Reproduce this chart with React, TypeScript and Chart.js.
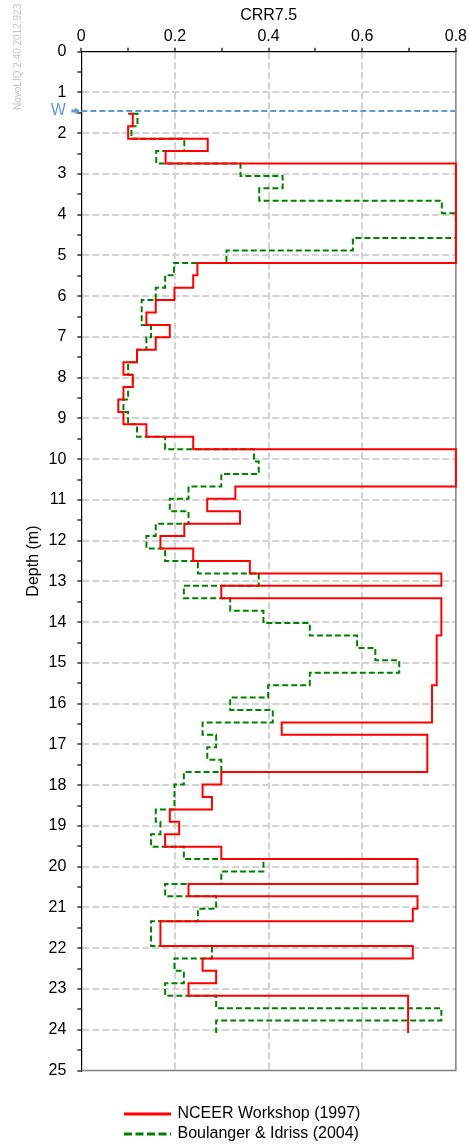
import { useEffect, useRef } from "react";
import { Chart, registerables } from "chart.js";

Chart.register(...registerables);

// Layer boundaries (m) – 1 ft layers from 5 ft to 79 ft
const depthBoundsM = [
  1.524, 1.829, 2.134, 2.438, 2.743, 3.048, 3.353, 3.658, 3.962, 4.267,
  4.572, 4.877, 5.182, 5.486, 5.791, 6.096, 6.401, 6.706, 7.01, 7.315,
  7.62, 7.925, 8.23, 8.534, 8.839, 9.144, 9.449, 9.754, 10.058, 10.363,
  10.668, 10.973, 11.278, 11.582, 11.887, 12.192, 12.497, 12.802, 13.106, 13.411,
  13.716, 14.021, 14.326, 14.63, 14.935, 15.24, 15.545, 15.85, 16.154, 16.459,
  16.764, 17.069, 17.374, 17.678, 17.983, 18.288, 18.593, 18.898, 19.202, 19.507,
  19.812, 20.117, 20.422, 20.726, 21.031, 21.336, 21.641, 21.946, 22.25, 22.555,
  22.86, 23.165, 23.47, 23.774, 24.079,
];

// CRR7.5 per layer – NCEER Workshop (1997)
const nceerCRR = [
  0.11, 0.1, 0.27, 0.18, 0.8, 0.8, 0.8, 0.8, 0.8, 0.8, 0.8, 0.8,
  0.248, 0.239, 0.199, 0.159, 0.139, 0.189, 0.159, 0.119, 0.09, 0.11, 0.09, 0.079, 0.09, 0.139, 0.239,
  0.8, 0.8, 0.8, 0.329, 0.269, 0.339, 0.22, 0.169, 0.239, 0.36, 0.769, 0.299,
  0.769, 0.769, 0.769, 0.759, 0.759, 0.759, 0.759, 0.749, 0.749, 0.749, 0.428,
  0.739, 0.739, 0.739, 0.299, 0.259, 0.279, 0.189, 0.209, 0.179, 0.299, 0.718, 0.718, 0.229, 0.718,
  0.708, 0.169, 0.169, 0.708, 0.259, 0.288, 0.229, 0.698, 0.698, 0.698,
];

// CRR7.5 per layer – Boulanger & Idriss (2004)
const boulangerCRR = [
  0.12, 0.107, 0.22, 0.16, 0.34, 0.43, 0.38, 0.77, 0.8, 0.8, 0.58, 0.31,
  0.198, 0.179, 0.159, 0.129, 0.129, 0.149, 0.139, 0.119, 0.1, 0.11, 0.1, 0.09, 0.1, 0.119, 0.179,
  0.369, 0.379, 0.299, 0.229, 0.189, 0.229, 0.159, 0.139, 0.179, 0.249, 0.379, 0.219,
  0.318, 0.389, 0.488, 0.589, 0.628, 0.679, 0.488, 0.399, 0.318, 0.409, 0.259,
  0.288, 0.269, 0.299, 0.219, 0.199, 0.199, 0.159, 0.169, 0.149, 0.219, 0.389, 0.299, 0.179, 0.288,
  0.249, 0.149, 0.149, 0.279, 0.199, 0.219, 0.179, 0.288, 0.769, 0.288,
];

const nceerStartCRR = 0.1;
const boulangerStartCRR = 0.11;
const waterDepthM = 1.455;

const seriesLabels = ["NCEER Workshop (1997)", "Boulanger & Idriss (2004)"];
const xTitle = "CRR7.5";
const yTitle = "Depth (m)";
const waterLabel = "W";
const watermark = "NovoLIQ 2.40.2012.923";

const FONT = 'Arial, "Liberation Sans", sans-serif';
const RED = "#ff0000";
const GREEN = "#008000";
const BLUE = "#5b9bd5";
const GRID = "#d3d3d3";

function stepPoints(start: number, vals: number[]) {
  const pts: { x: number; y: number }[] = [{ x: start, y: depthBoundsM[0] }];
  vals.forEach((v, i) => {
    pts.push({ x: v, y: depthBoundsM[i] }, { x: v, y: depthBoundsM[i + 1] });
  });
  return pts;
}

const decorPlugin = {
  id: "decor",
  beforeDatasetsDraw(chart: any) {
    const { ctx, chartArea: a } = chart;
    ctx.save();
    ctx.strokeStyle = "#808080";
    ctx.lineWidth = 1.5;
    ctx.beginPath();
    ctx.moveTo(a.right, a.top);
    ctx.lineTo(a.right, a.bottom);
    ctx.lineTo(a.left, a.bottom);
    ctx.stroke();
    ctx.restore();
  },
  afterDraw(chart: any) {
    const { ctx, chartArea: a, scales } = chart;
    const yW = scales.y.getPixelForValue(waterDepthM);
    ctx.save();
    // water table line
    ctx.strokeStyle = BLUE;
    ctx.lineWidth = 2;
    ctx.setLineDash([6, 3]);
    ctx.beginPath();
    ctx.moveTo(a.left, yW);
    ctx.lineTo(a.right, yW);
    ctx.stroke();
    ctx.setLineDash([]);
    ctx.fillStyle = BLUE;
    ctx.font = `16px ${FONT}`;
    ctx.textAlign = "center";
    ctx.textBaseline = "middle";
    ctx.fillText(waterLabel, a.left - 23, yW);
    ctx.fillRect(a.left - 10, yW - 1.5, 5, 3);
    ctx.beginPath();
    ctx.moveTo(a.left - 6, yW - 3.5);
    ctx.lineTo(a.left - 1.5, yW);
    ctx.lineTo(a.left - 6, yW + 3.5);
    ctx.closePath();
    ctx.fill();

    // watermark
    ctx.save();
    ctx.translate(18, 110);
    ctx.rotate(-Math.PI / 2);
    ctx.fillStyle = "#c4c4c4";
    ctx.font = `10px ${FONT}`;
    ctx.textAlign = "left";
    ctx.textBaseline = "middle";
    ctx.fillText(watermark, 0, 0);
    ctx.restore();

    // legend
    const lx1 = 124, lx2 = 171, tx = 177.5;
    const rows = [
      { y: 1114, color: RED, dash: [] as number[] },
      { y: 1134, color: GREEN, dash: [8, 3.5] },
    ];
    rows.forEach((r, i) => {
      ctx.strokeStyle = r.color;
      ctx.lineWidth = 3;
      ctx.setLineDash(r.dash);
      ctx.beginPath();
      ctx.moveTo(lx1, r.y);
      ctx.lineTo(lx2, r.y);
      ctx.stroke();
      ctx.setLineDash([]);
      ctx.fillStyle = "#000";
      ctx.font = `16px ${FONT}`;
      ctx.textAlign = "left";
      ctx.textBaseline = "middle";
      ctx.fillText(seriesLabels[i], tx, r.y);
    });
    ctx.restore();
  },
};

export default function App() {
  const ref = useRef<HTMLCanvasElement | null>(null);

  useEffect(() => {
    if (!ref.current) return;
    Chart.defaults.font.family = FONT;
    const chart = new Chart(ref.current, {
      type: "scatter",
      data: {
        datasets: [
          {
            label: seriesLabels[0],
            data: stepPoints(nceerStartCRR, nceerCRR),
            showLine: true,
            borderColor: RED,
            borderWidth: 2,
            pointRadius: 0,
            tension: 0,
            clip: false,
          } as any,
          {
            label: seriesLabels[1],
            data: stepPoints(boulangerStartCRR, boulangerCRR),
            showLine: true,
            borderColor: GREEN,
            borderWidth: 2,
            borderDash: [6, 3],
            pointRadius: 0,
            tension: 0,
            clip: false,
          } as any,
        ],
      },
      options: {
        responsive: false,
        animation: false,
        devicePixelRatio: 1,
        layout: { padding: { left: 0, top: 0, right: 12.3, bottom: 73.5 } },
        plugins: { legend: { display: false }, tooltip: { enabled: false } },
        scales: {
          x: {
            type: "linear",
            position: "top",
            min: 0,
            max: 0.8,
            afterFit: (s: any) => {
              s.height = 51.7;
            },
            ticks: {
              stepSize: 0.1,
              autoSkip: false,
              maxRotation: 0,
              padding: 2,
              color: "#000",
              font: { size: 16, family: FONT },
              callback: (v: any) => {
                const n = Math.round(Number(v) * 10);
                if (n % 2 !== 0) return "";
                return n === 0 ? "0" : (n / 10).toFixed(1);
              },
            },
            grid: {
              color: (c: any) => {
                const n = Math.round((c.tick?.value ?? 0) * 10);
                return n % 2 === 0 && n > 0 && n < 8 ? GRID : "rgba(0,0,0,0)";
              },
              lineWidth: 2,
              tickLength: 4,
              tickColor: "#000",
              tickWidth: 1.2,
            },
            border: { display: true, color: "#000", width: 1.2, dash: [7, 3] },
            title: {
              display: true,
              text: xTitle,
              color: "#000",
              font: { size: 16, family: FONT },
              padding: { top: 6, bottom: 0 },
            },
          },
          y: {
            type: "linear",
            reverse: true,
            min: 0,
            max: 25,
            afterFit: (s: any) => {
              s.width = 81.3;
            },
            ticks: {
              stepSize: 0.5,
              autoSkip: false,
              padding: 11,
              color: "#000",
              font: { size: 16, family: FONT },
              callback: (v: any) => {
                const n = Number(v);
                return Math.abs(n - Math.round(n)) < 1e-6 ? String(Math.round(n)) : "";
              },
            },
            grid: {
              color: (c: any) => {
                const v = c.tick?.value ?? 0;
                const isInt = Math.abs(v - Math.round(v)) < 1e-6;
                return isInt && v > 0 && v < 25 ? GRID : "rgba(0,0,0,0)";
              },
              lineWidth: 2,
              tickLength: 4,
              tickColor: "#000",
              tickWidth: 1.2,
            },
            border: { display: true, color: "#000", width: 1.2, dash: [7, 3] },
            title: {
              display: true,
              text: yTitle,
              color: "#000",
              font: { size: 16, family: FONT },
              padding: { top: 24, bottom: 0 },
            },
          },
        },
      },
      plugins: [decorPlugin],
    } as any);
    return () => chart.destroy();
  }, []);

  return (
    <div style={{ position: "absolute", left: 0, top: 0, width: 469, height: 1144, background: "#fff" }}>
      <canvas ref={ref} width={469} height={1144} style={{ display: "block", width: 469, height: 1144 }} />
    </div>
  );
}
